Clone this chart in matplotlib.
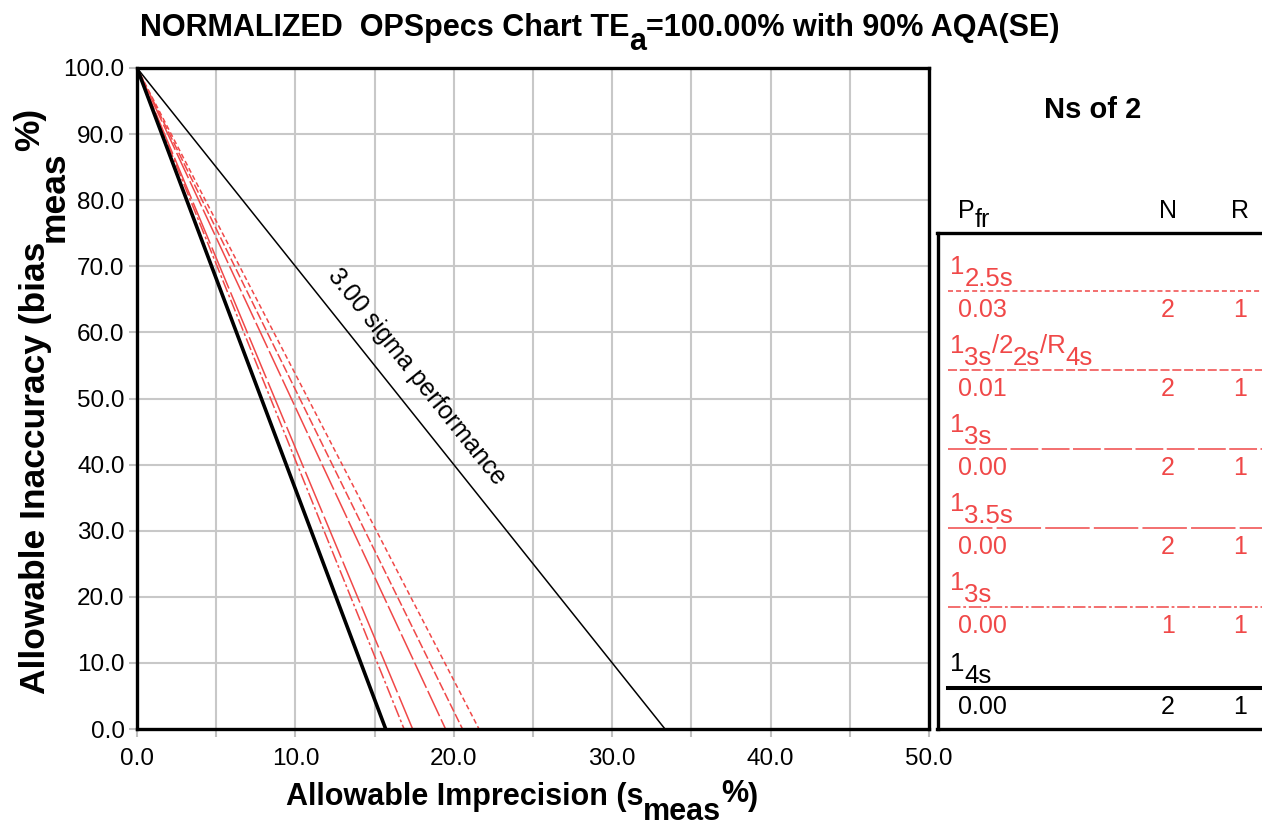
import matplotlib
matplotlib.use("Agg")
import matplotlib.pyplot as plt
from matplotlib.lines import Line2D

plt.rcParams['font.family'] = ['Liberation Sans', 'DejaVu Sans']
plt.rcParams['lines.scale_dashes'] = False

W, H = 1262, 831
RED = '#f04848'

# OPSpecs lines: all start at (0, TEa), end at allowable imprecision on bias = 0
tea = 100.0
sigma_level = 3.0
rule_parts = [
    [('1', 12), ('2.5s', 0)],
    [('1', 12), ('3s', 0), ('/2', 12), ('2s', 0), ('/R', 12), ('4s', 0)],
    [('1', 12), ('3s', 0)],
    [('1', 12), ('3.5s', 0)],
    [('1', 12), ('3s', 0)],
    [('1', 12), ('4s', 0)],
]
s_intercepts = [21.59, 20.55, 19.48, 17.40, 16.86, 15.70]
pfr = ['0.03', '0.01', '0.00', '0.00', '0.00', '0.00']
n_vals = ['2', '2', '2', '2', '1', '2']
r_vals = ['1', '1', '1', '1', '1', '1']
colors = [RED, RED, RED, RED, RED, 'black']
widths = [1.1, 1.1, 1.1, 1.1, 1.1, 2.6]
dashes = [(3.6, 2.2), (6.5, 2.0), (20, 2.5), (32, 3), (9, 2, 2, 2), None]

fig = plt.figure(figsize=(W / 100, H / 100), dpi=100)
ax = fig.add_axes([137 / W, 1 - 729 / H, (929 - 137) / W, (729 - 68) / H])
renderer = fig.canvas.get_renderer()


def fx(x):
    return x / W


def fy(y):
    return 1 - y / H


def rich(x, y, parts, fs, color='black', weight='normal', rot=0, ha='left'):
    # text pieces with baseline shifts (dy in px, + is up), full-size sub/superscripts
    items = []
    total = 0
    for s, dy in parts:
        t = fig.text(0, 0, s, fontsize=fs, color=color, fontweight=weight,
                     rotation=rot, rotation_mode='anchor', ha='left', va='baseline')
        bb = t.get_window_extent(renderer)
        items.append((t, dy, total))
        total += bb.width if rot == 0 else bb.height
    if rot == 0:
        start = x - total / 2 if ha == 'center' else x
        for t, dy, off in items:
            t.set_position((fx(start + off), fy(y - dy)))
    else:
        start = y + total / 2 if ha == 'center' else y
        for t, dy, off in items:
            t.set_position((fx(x - dy), fy(start - off)))


# grid
for gx in range(5, 50, 5):
    ax.axvline(gx, color='#c8c8c8', lw=1.5, zorder=0)
for gy in range(10, 100, 10):
    ax.axhline(gy, color='#c8c8c8', lw=1.5, zorder=0)

# sigma line
ax.plot([0, tea / sigma_level], [tea, 0], color='black', lw=1.1)
ax.text(17.68, 53.25, '3.00 sigma performance', fontsize=18, rotation=-51.3,
        rotation_mode='anchor', ha='center', va='center')

for xi, c, lw, d in zip(s_intercepts, colors, widths, dashes):
    ln, = ax.plot([0, xi], [tea, 0], color=c, lw=lw, solid_capstyle='butt')
    if d is not None:
        ln.set_dashes(d)

ax.set_xlim(0, 50)
ax.set_ylim(0, 100)
ax.set_xticks(range(0, 51, 5))
ax.set_xticklabels(['%.1f' % v if v % 10 == 0 else '' for v in range(0, 51, 5)])
ax.set_yticks(range(0, 101, 10))
ax.set_yticklabels(['%.1f' % v for v in range(0, 101, 10)])
ax.tick_params(direction='out', length=6, width=1.5, color='#c0c0c0',
               labelsize=17.5, pad=3)
ax.tick_params(axis='x', pad=8)
for sp in ax.spines.values():
    sp.set_linewidth(2.4)

rich(522, 805, [('Allowable Imprecision (s', 0), ('meas', -15), ('%', 3), (')', 0)],
     22, weight='bold', ha='center')
rich(45, 401, [('Allowable Inaccuracy (bias', 0), ('meas', -19), ('%)', 6)],
     25.5, weight='bold', rot=90, ha='center')
rich(600, 36, [('NORMALIZED  OPSpecs Chart TE', 0), ('a', -14),
               ('=100.00% with 90% AQA(SE)', 0)], 22, weight='bold', ha='center')

# right-hand key panel
fig.text(fx(1093), fy(110), 'Ns of 2', fontsize=21, fontweight='bold',
         ha='center', va='center')
fig.add_artist(Line2D([fx(938), fx(938)], [fy(233), fy(729)], color='black', lw=2.4))
fig.add_artist(Line2D([fx(937), fx(W)], [fy(233), fy(233)], color='black', lw=2.4))
fig.add_artist(Line2D([fx(937), fx(W)], [fy(729), fy(729)], color='black', lw=2.4))

rich(958, 218, [('P', 0), ('fr', -9)], 18)
fig.text(fx(1168), fy(218), 'N', fontsize=18, ha='center', va='baseline')
fig.text(fx(1240), fy(218), 'R', fontsize=18, ha='center', va='baseline')

row_lines = [291, 370, 449, 528, 607, 688]
for i, ly in enumerate(row_lines):
    c = colors[i]
    rich(950, ly - 5, rule_parts[i], 18.5, color=c)
    ln = Line2D([fx(948), fx(W)], [fy(ly), fy(ly)], color=c,
                lw=widths[i] + (0.3 if i == 5 else 0))
    if dashes[i] is not None:
        ln.set_dashes(dashes[i])
    fig.add_artist(ln)
    vy = ly + 26
    fig.text(fx(958), fy(vy), pfr[i], fontsize=18, color=c, ha='left', va='baseline')
    fig.text(fx(1168), fy(vy), n_vals[i], fontsize=18, color=c, ha='center', va='baseline')
    fig.text(fx(1240), fy(vy), r_vals[i], fontsize=18, color=c, ha='center', va='baseline')

fig.savefig('out.png', dpi=100)
